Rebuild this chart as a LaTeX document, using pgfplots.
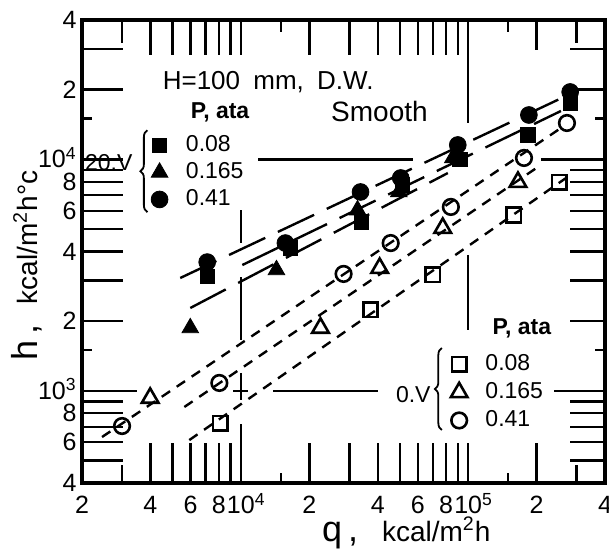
\documentclass[border=0pt]{standalone}
\usepackage{fontspec}
\setmainfont{Liberation Sans}
\usepackage{pgfplots}
\pgfplotsset{compat=1.18}
\usetikzlibrary{decorations.pathreplacing}

\tikzset{tk/.style={line width=1.2pt}}

\begin{document}
\begin{tikzpicture}
% filled symbols (20 V) and the frame
\begin{axis}[name=main,
  xmode=log, ymode=log,
  xmin=2000, xmax=400000, ymin=400, ymax=40000,
  scale only axis, width=261.5pt, height=231.5pt,
  axis line style={line width=2pt},
  xtick={2000,4000,6000,8000,10000,20000,40000,60000,80000,100000,200000,400000},
  xticklabels={2,4,6,8,10\rlap{\smash{\textsuperscript{4}}},2,4,6,8,10\rlap{\smash{\textsuperscript{5}}},2,4\hspace{4pt}},
  ytick={400,600,800,1000,2000,4000,6000,8000,10000,20000,40000},
  yticklabels={4,6,8,10\smash{\textsuperscript{3}},2,4,6,8,10\smash{\textsuperscript{4}},2,4},
  major tick length=0pt, minor tick length=0pt,
  tick label style={font=\fontsize{12.5}{14}\selectfont, inner sep=0.5pt},
  xticklabel style={yshift=-6pt},
  yticklabel style={xshift=-2pt},
  xlabel={{\fontsize{18}{20}\selectfont q\,,}\hspace{12pt}{\fontsize{14}{16}\selectfont kcal/m\textsuperscript{2}h}},
  xlabel style={at={(axis description cs:0.62,-0.108)}, anchor=center},
  ylabel={{\fontsize{18}{20}\selectfont h\,,}\hspace{10pt}{\fontsize{14}{16}\selectfont kcal/m\textsuperscript{2}h°c}},
  ylabel style={at={(axis description cs:-0.106,0.47)}, anchor=center},
  legend style={draw=none, fill=none, at={(0.12,0.768)}, anchor=north west,
    font=\fontsize{11.5}{13}\selectfont, row sep=0pt},
  legend cell align=left,
]
% tick marks drawn inside the frame
\pgfplotsinvokeforeach{4000,5000,6000,7000,8000,9000,20000,30000,40000,50000,60000,70000,80000,90000,100000,200000}{
  \draw[tk] (axis cs:#1,400) -- ([yshift=20pt]axis cs:#1,400);}
\pgfplotsinvokeforeach{3000,300000}{\draw[tk] (axis cs:#1,400) -- ([yshift=9pt]axis cs:#1,400);}
\pgfplotsinvokeforeach{15000,150000}{\draw[tk] (axis cs:#1,400) -- ([yshift=5pt]axis cs:#1,400);}
\pgfplotsinvokeforeach{4000,5000,6000,7000,8000,9000,10000,20000,30000,40000,50000,60000,70000,80000,90000}{
  \draw[tk] (axis cs:#1,40000) -- ([yshift=-17.5pt]axis cs:#1,40000);}
\pgfplotsinvokeforeach{3000,300000}{\draw[tk] (axis cs:#1,40000) -- ([yshift=-11.5pt]axis cs:#1,40000);}
\draw[tk] (axis cs:200000,40000) -- ([yshift=-15pt]axis cs:200000,40000);
\pgfplotsinvokeforeach{15000,150000}{\draw[tk] (axis cs:#1,40000) -- ([yshift=-6pt]axis cs:#1,40000);}
\pgfplotsinvokeforeach{500,600,700,800,900,2000,3000,4000,5000,6000,7000,8000,9000,10000,20000,30000}{
  \draw[tk] (axis cs:2000,#1) -- ([xshift=20.5pt]axis cs:2000,#1);}
\pgfplotsinvokeforeach{500,600,700,800,900,2000,3000,4000,5000,6000,7000,8000,9000,20000,30000}{
  \draw[tk] (axis cs:400000,#1) -- ([xshift=-17.5pt]axis cs:400000,#1);}
\pgfplotsinvokeforeach{1500,15000}{
  \draw[tk] (axis cs:2000,#1) -- ([xshift=5pt]axis cs:2000,#1);
  \draw[tk] (axis cs:400000,#1) -- ([xshift=-5pt]axis cs:400000,#1);}
% broken grid lines at the decades
\draw[tk] (axis cs:10000,6040) -- (axis cs:10000,4350);
\draw[tk] (axis cs:10000,3100) -- (axis cs:10000,1655);
\draw[tk] (axis cs:10000,1195) -- (axis cs:10000,917);
\draw[tk] (axis cs:10000,718) -- (axis cs:10000,400);
\draw[tk] (axis cs:9270,1000) -- (axis cs:10790,1000);
\draw[tk] (axis cs:13900,1000) -- (axis cs:40000,1000);
\draw[tk] (axis cs:2000,1000) -- (axis cs:3500,1000);
\draw[tk] (axis cs:238600,1000) -- (axis cs:400000,1000);
\draw[tk] (axis cs:11900,10000) -- (axis cs:57000,10000);
\draw[tk] (axis cs:209000,10000) -- (axis cs:400000,10000);
\draw[tk] (axis cs:100000,40000) -- (axis cs:100000,14360);
\draw[tk] (axis cs:100000,3864) -- (axis cs:100000,1832);

% fitted lines, 20 V
\addplot[black, line width=1.2pt, dash pattern=on 20pt off 7pt, forget plot] coordinates {(5410,3073) (269600,18790)};
\addplot[black, line width=1.2pt, dash pattern=on 20pt off 7pt, forget plot] coordinates {(10150,3497) (256000,16180)};
\addplot[black, line width=1.2pt, dash pattern=on 20pt off 7pt, forget plot] coordinates {(5990,2280) (81400,8730)};

\addplot[only marks, mark=square*, mark size=3.6pt, black] coordinates {
  (7110,3130) (16500,4140) (34000,5360) (51500,7750) (92000,10000) (183000,12740) (281000,17520)};
\addlegendentry{\hspace{7pt}0.08}
\addplot[only marks, mark=triangle*, mark size=4.8pt, black] coordinates {
  (5990,1870) (14340,3330) (32600,6040) (49500,7230) (85600,10140)};
\addlegendentry{\hspace{7pt}0.165}
\addplot[only marks, mark=*, mark size=4.2pt, black] coordinates {
  (7110,3600) (15700,4350) (33600,7230) (50500,8310) (90000,11540) (185000,15550) (281000,19550)};
\addlegendentry{\hspace{7pt}0.41}

% texts and braces
\node[anchor=west, font=\fontsize{13}{15}\selectfont] at (rel axis cs:0.141,0.866) {H=100\hspace{3pt} mm,\hspace{3pt} D.W.};
\node[anchor=west, font=\fontsize{14}{16}\selectfont] at (rel axis cs:0.463,0.803) {Smooth};
\node[font=\fontsize{11.5}{13}\selectfont\bfseries] at (rel axis cs:0.264,0.801) {P, ata};
\node[anchor=east, font=\fontsize{11.5}{13}\selectfont] at (rel axis cs:0.110,0.691) {20.V};
\draw[line width=0.9pt, decorate, decoration={brace, amplitude=3.5pt}]
  (rel axis cs:0.125,0.585) -- (rel axis cs:0.125,0.762);
\node[font=\fontsize{11.5}{13}\selectfont\bfseries] at (rel axis cs:0.841,0.335) {P, ata};
\node[anchor=east, font=\fontsize{11.5}{13}\selectfont] at (rel axis cs:0.68,0.19) {0.V};
\draw[line width=0.9pt, decorate, decoration={brace, amplitude=3.5pt}]
  (rel axis cs:0.688,0.1145) -- (rel axis cs:0.688,0.2916);
\end{axis}

% open symbols (0 V)
\begin{axis}[
  xmode=log, ymode=log,
  xmin=2000, xmax=400000, ymin=400, ymax=40000,
  scale only axis, width=261.5pt, height=231.5pt,
  hide axis,
  legend style={draw=none, fill=none, at={(0.693,0.295)}, anchor=north west,
    font=\fontsize{11.5}{13}\selectfont, row sep=0.5pt},
  legend cell align=left,
]
\addplot[black, line width=1.2pt, dash pattern=on 5pt off 4pt, forget plot] coordinates {(2450,632) (256000,13660)};
\addplot[black, line width=1.2pt, dash pattern=on 5pt off 4pt, forget plot] coordinates {(5640,852) (209000,9460)};
\addplot[black, line width=1.2pt, dash pattern=on 5pt off 4pt, forget plot] coordinates {(5930,613) (269600,8310)};

\addplot[only marks, mark=square, mark size=3.6pt, black, mark options={line width=1.3pt}] coordinates {
  (8120,726) (37200,2240) (69900,3170) (159000,5750) (251000,7980)};
\addlegendentry{\hspace{7pt}0.08}
\addplot[only marks, mark=triangle, mark size=4.8pt, black, mark options={line width=1.3pt}] coordinates {
  (3990,932) (22400,1870) (40800,3390) (77300,5050) (165600,7980)};
\addlegendentry{\hspace{7pt}0.165}
\addplot[only marks, mark=o, mark size=3.9pt, black, mark options={line width=1.3pt}] coordinates {
  (3000,705) (8040,1082) (28300,3200) (45600,4350) (83900,6230) (176000,10140) (272000,14360)};
\addlegendentry{\hspace{7pt}0.41}
\end{axis}
\pgfresetboundingbox
\useasboundingbox ([xshift=-41pt,yshift=-36pt]main.south west) rectangle ([xshift=2pt,yshift=10pt]main.north east);
\end{tikzpicture}
\end{document}
